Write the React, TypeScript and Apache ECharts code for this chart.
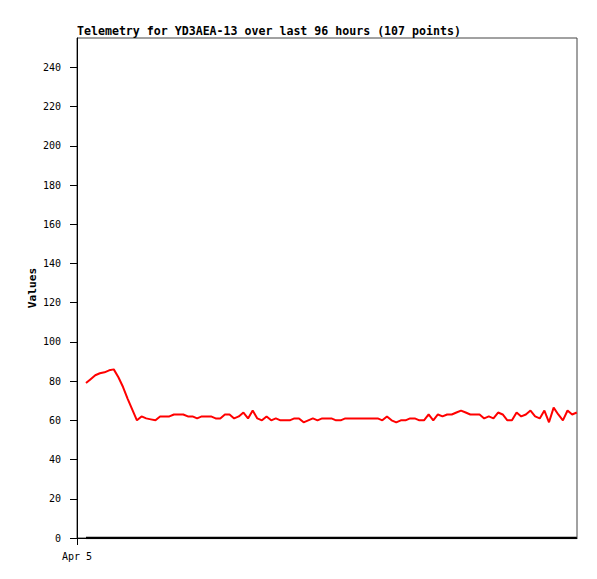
import React, { useEffect, useRef } from "react";
import * as echarts from "echarts";

const TITLE = "Telemetry for YD3AEA-13 over last 96 hours (107 points)";
const Y_NAME = "Values";
const X_LABEL = "Apr 5";
// hours after Apr 5 00:00 of the first sample, and the span of the samples
const FIRST_HOUR = 1.76;
const SPAN_HOURS = 96;
const Y_TICKS = [0, 20, 40, 60, 80, 100, 120, 140, 160, 180, 200, 220, 240];

const redValues = [
  79, 81, 83, 84, 84.5, 85.5, 86, 82, 77, 71, 65.5, 60,
  62, 61, 60.5, 60, 62, 62, 62, 63, 63, 63, 62, 62, 61, 62, 62, 62, 61, 61, 63, 63, 61, 62, 64, 61, 65, 61,
  60, 62, 60, 61, 60, 60, 60, 61, 61, 59, 60, 61, 60, 61, 61, 61, 60, 60, 61,
  61, 61, 61, 61, 61, 61, 61,
  60, 62, 60, 59, 60, 60, 61, 61, 60, 60, 63, 60, 63, 62, 63, 63, 64, 65, 64, 63, 63, 63, 61, 62, 61, 64, 63, 60, 60,
  64, 62, 63, 65, 62, 61, 65, 59, 66.5, 63, 60, 65, 63, 64,
];
const blackValues = redValues.map(() => 0);

export default function App() {
  const ref = useRef<HTMLDivElement>(null);
  useEffect(() => {
    if (!ref.current) return;
    const chart = echarts.init(ref.current, undefined, { renderer: "svg" });
    const n = redValues.length;
    const step = SPAN_HOURS / (n - 1);
    const xs = redValues.map((_, i) => FIRST_HOUR + i * step);
    const mono = "DejaVu Sans Mono";
    chart.setOption({
      animation: false,
      backgroundColor: "#ffffff",
      title: {
        text: TITLE,
        left: 77,
        top: 25,
        padding: 0,
        textStyle: { fontFamily: mono, fontSize: 11.6, fontWeight: "bold", color: "#000" },
      },
      grid: {
        left: 77,
        top: 38,
        right: 20,
        bottom: 41,
        show: true,
        borderColor: "#444",
        borderWidth: 1,
        backgroundColor: "#fff",
      },
      xAxis: {
        type: "value",
        min: 0,
        max: FIRST_HOUR + SPAN_HOURS + 0.04,
        splitLine: { show: false },
        axisLine: { show: true, onZero: false, lineStyle: { color: "#000", width: 1 } },
        axisTick: { show: true, length: 7, customValues: [0], lineStyle: { color: "#000" } },
        axisLabel: {
          customValues: [0],
          formatter: () => X_LABEL,
          fontFamily: mono,
          fontSize: 10,
          color: "#000",
          margin: 13,
        },
      },
      yAxis: {
        type: "value",
        min: 0,
        max: 255,
        name: Y_NAME,
        nameLocation: "middle",
        nameGap: 39.5,
        nameMoveOverlap: false,
        nameTextStyle: { fontFamily: mono, fontSize: 11.2, fontWeight: "bold", color: "#000" },
        splitLine: { show: false },
        axisLine: { show: true, lineStyle: { color: "#000", width: 1 } },
        axisTick: { show: true, length: 7, customValues: Y_TICKS, lineStyle: { color: "#000" } },
        axisLabel: {
          customValues: Y_TICKS,
          fontFamily: mono,
          fontSize: 10,
          color: "#000",
          margin: 16,
        },
      },
      series: [
        {
          type: "line",
          data: xs.map((x, i) => [x, blackValues[i]]),
          showSymbol: false,
          lineStyle: { color: "#000", width: 2.5 },
          z: 3,
        },
        {
          type: "line",
          data: xs.map((x, i) => [x, redValues[i]]),
          showSymbol: false,
          lineStyle: { color: "#ff0000", width: 2 },
          z: 4,
        },
      ],
    });
    return () => chart.dispose();
  }, []);
  return (
    <div
      ref={ref}
      style={{ position: "fixed", left: 0, top: 0, width: 597, height: 579 }}
    />
  );
}
